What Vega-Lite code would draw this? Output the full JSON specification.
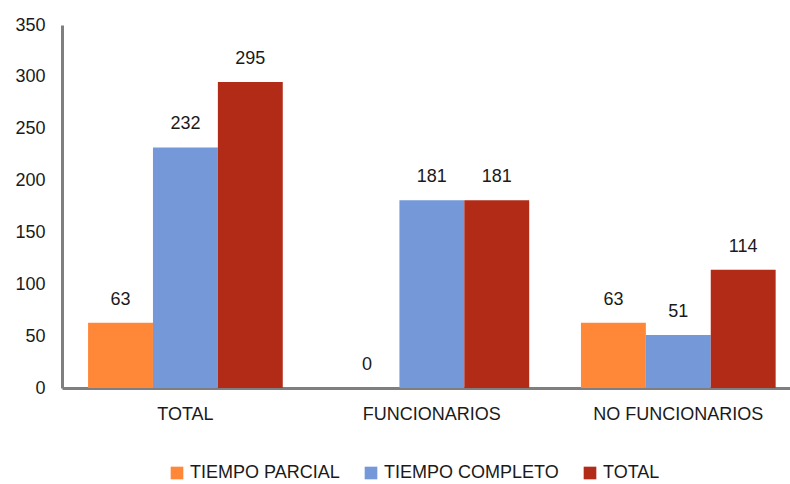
{
  "$schema": "https://vega.github.io/schema/vega-lite/v6.json",
  "width": 728,
  "height": 363,
  "autosize": {"type": "none"},
  "padding": {"left": 62, "top": 25, "right": 0, "bottom": 96},
  "background": "white",
  "config": {
    "font": "Liberation Sans",
    "view": {"stroke": null}
  },
  "data": {
    "values": [
      {"grupo": "TOTAL", "serie": "TIEMPO PARCIAL", "valor": 63},
      {"grupo": "TOTAL", "serie": "TIEMPO COMPLETO", "valor": 232},
      {"grupo": "TOTAL", "serie": "TOTAL", "valor": 295},
      {"grupo": "FUNCIONARIOS", "serie": "TIEMPO PARCIAL", "valor": 0},
      {"grupo": "FUNCIONARIOS", "serie": "TIEMPO COMPLETO", "valor": 181},
      {"grupo": "FUNCIONARIOS", "serie": "TOTAL", "valor": 181},
      {"grupo": "NO FUNCIONARIOS", "serie": "TIEMPO PARCIAL", "valor": 63},
      {"grupo": "NO FUNCIONARIOS", "serie": "TIEMPO COMPLETO", "valor": 51},
      {"grupo": "NO FUNCIONARIOS", "serie": "TOTAL", "valor": 114}
    ]
  },
  "encoding": {
    "x": {
      "field": "grupo",
      "type": "nominal",
      "sort": ["TOTAL", "FUNCIONARIOS", "NO FUNCIONARIOS"],
      "scale": {"paddingInner": 0.21, "paddingOuter": 0.082, "align": 0.645},
      "axis": {
        "title": null,
        "labelAngle": 0,
        "labelFontSize": 18,
        "labelColor": "#1a1a1a",
        "labelPadding": 17,
        "ticks": false,
        "domainColor": "#7f7f7f",
        "domainWidth": 3,
        "grid": false
      }
    },
    "xOffset": {
      "field": "serie",
      "type": "nominal",
      "sort": ["TIEMPO PARCIAL", "TIEMPO COMPLETO", "TOTAL"],
      "scale": {"paddingInner": 0, "paddingOuter": 0}
    },
    "y": {
      "field": "valor",
      "type": "quantitative",
      "scale": {"domain": [0, 350], "nice": false},
      "axis": {
        "title": null,
        "values": [0, 50, 100, 150, 200, 250, 300, 350],
        "labelFontSize": 18,
        "labelColor": "#1a1a1a",
        "labelPadding": 17,
        "ticks": false,
        "grid": false,
        "domainColor": "#7f7f7f",
        "domainWidth": 3
      }
    }
  },
  "layer": [
    {
      "mark": {"type": "bar"},
      "encoding": {
        "color": {
          "field": "serie",
          "type": "nominal",
          "sort": ["TIEMPO PARCIAL", "TIEMPO COMPLETO", "TOTAL"],
          "scale": {
            "domain": ["TIEMPO PARCIAL", "TIEMPO COMPLETO", "TOTAL"],
            "range": ["#FF8738", "#7599D8", "#B22B17"]
          },
          "legend": {
            "title": null,
            "orient": "none",
            "legendX": 106,
            "legendY": 439,
            "direction": "horizontal",
            "symbolType": "square",
            "symbolSize": 160,
            "symbolStrokeWidth": 0,
            "labelFontSize": 18,
            "labelLimit": 400,
            "labelColor": "#1a1a1a",
            "labelOffset": 4,
            "columnPadding": 22
          }
        }
      }
    },
    {
      "mark": {"type": "text", "dy": -23, "fontSize": 18, "color": "#1a1a1a"},
      "encoding": {
        "text": {"field": "valor", "type": "quantitative"}
      }
    }
  ]
}
